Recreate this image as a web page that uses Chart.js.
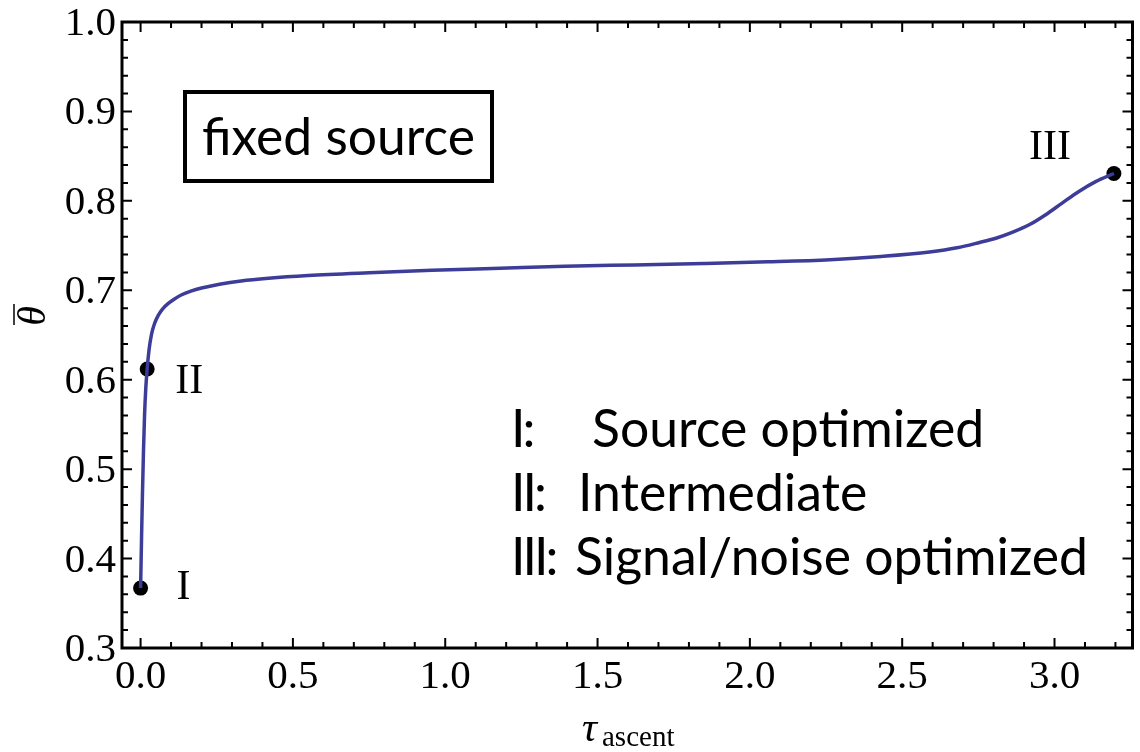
<!DOCTYPE html>
<html>
<head>
<meta charset="utf-8">
<script src="https://cdn.jsdelivr.net/npm/chart.js@4/dist/chart.umd.min.js"></script>
<style>
	body { margin: 0; background: #ffffff; }
	#wrap { width: 1140px; height: 752px; }
</style>
</head>
<body>
<div id="wrap"><canvas id="thetaChart" width="1140" height="752"></canvas></div>
<script>
// curve samples: tau_ascent vs mean theta
const tauValues = [0, 0.003, 0.006, 0.0095, 0.013, 0.017, 0.0216, 0.028, 0.036, 0.046, 0.058, 0.072, 0.09, 0.11, 0.135, 0.165, 0.2, 0.259, 0.33, 0.42, 0.55, 0.75, 0.956, 1.18, 1.392, 1.62, 1.85, 2.06, 2.263, 2.43, 2.59, 2.68, 2.754, 2.81, 2.863, 2.92, 2.971, 3.025, 3.08, 3.135, 3.195];
const thetaValues = [0.367, 0.42, 0.47, 0.52, 0.56, 0.59, 0.612, 0.634, 0.651, 0.663, 0.672, 0.679, 0.685, 0.69, 0.695, 0.699, 0.7025, 0.7068, 0.7105, 0.7135, 0.7165, 0.7196, 0.7223, 0.7246, 0.7268, 0.7284, 0.73, 0.7318, 0.7342, 0.7378, 0.7428, 0.7475, 0.7535, 0.7585, 0.765, 0.7738, 0.7845, 0.7975, 0.8105, 0.8215, 0.8306];

// marked operating points
const markerTau = [0, 0.0216, 3.195];
const markerTheta = [0.367, 0.612, 0.8306];
const markerLabels = ["I", "II", "III"];

// axis ticks
const xTickValues = [0, 0.5, 1, 1.5, 2, 2.5, 3];
const yTickValues = [0.3, 0.4, 0.5, 0.6, 0.7, 0.8, 0.9, 1.0];
const xMinorStep = 0.1;
const yMinorStep = 0.02;

const boxText = "fixed source";
const legendKeys = ["I:", "II:", "III:"];
const legendTexts = ["Source optimized", "Intermediate", "Signal/noise optimized"];

const serif = "\"Liberation Serif\", \"DejaVu Serif\", serif";
const sans = "Lato, \"Open Sans\", sans-serif";

var curveData = tauValues.map((t, i) => ({ x: t, y: thetaValues[i] }));
var markerData = markerTau.map((t, i) => ({ x: t, y: markerTheta[i] }));

// fit a sans string to a target width
function fitFont(ctx, text, width) {
	ctx.font = "50px " + sans;
	var w = ctx.measureText(text).width;
	return Math.round(50 * width / w * 10) / 10;
}

const framePlugin = {
	id: "frame",
	afterDraw(chart) {
		const ctx = chart.ctx;
		const a = chart.chartArea;
		const xs = chart.scales.x;
		const ys = chart.scales.y;
		ctx.save();

		// ticks on all four sides, pointing in
		ctx.strokeStyle = "#000";
		ctx.lineWidth = 2;
		ctx.beginPath();
		for (let v = 0; v <= 3.2 + 1e-9; v += xMinorStep) {
			let px = xs.getPixelForValue(v);
			let major = xTickValues.some((t) => Math.abs(t - v) < 1e-6);
			let len = major ? 10 : 6;
			ctx.moveTo(px, a.bottom);
			ctx.lineTo(px, a.bottom - len);
			ctx.moveTo(px, a.top);
			ctx.lineTo(px, a.top + len);
		}
		for (let v = 0.3; v <= 1.0 + 1e-9; v += yMinorStep) {
			let py = ys.getPixelForValue(v);
			let major = yTickValues.some((t) => Math.abs(t - v) < 1e-6);
			let len = major ? 10 : 6;
			ctx.moveTo(a.left, py);
			ctx.lineTo(a.left + len, py);
			ctx.moveTo(a.right, py);
			ctx.lineTo(a.right - len, py);
		}
		ctx.stroke();

		// frame
		ctx.lineWidth = 3;
		ctx.strokeRect(a.left, a.top, a.right - a.left, a.bottom - a.top);

		// tick labels
		ctx.fillStyle = "#000";
		ctx.font = "41px " + serif;
		ctx.textAlign = "center";
		ctx.textBaseline = "alphabetic";
		xTickValues.forEach((v) => {
			ctx.fillText(v.toFixed(1), xs.getPixelForValue(v), 688);
		});
		ctx.textAlign = "right";
		yTickValues.forEach((v) => {
			ctx.fillText(v.toFixed(1), 116, ys.getPixelForValue(v) + 13);
		});

		// x axis title: tau with subscript
		ctx.textAlign = "left";
		ctx.font = "italic 42px " + serif;
		ctx.fillText("\u03C4", 582, 741);
		ctx.font = "29px " + serif;
		ctx.fillText("ascent", 602, 746);

		// y axis title: theta with overbar, rotated
		ctx.save();
		ctx.translate(45, 316);
		ctx.rotate(-Math.PI / 2);
		ctx.font = "italic 40px " + serif;
		ctx.textAlign = "center";
		ctx.fillText("\u03B8", 0, 0);
		ctx.lineWidth = 1.5;
		ctx.beginPath();
		ctx.moveTo(-9, -31);
		ctx.lineTo(12, -31);
		ctx.stroke();
		ctx.restore();

		// roman numerals next to the points
		const labelOffsets = [[36, 11], [28, 24], [-85, -14]];
		ctx.font = "42px " + serif;
		ctx.textAlign = "left";
		markerLabels.forEach((lab, i) => {
			let px = xs.getPixelForValue(markerTau[i]);
			let py = ys.getPixelForValue(markerTheta[i]);
			ctx.fillText(lab, px + labelOffsets[i][0], py + labelOffsets[i][1]);
		});

		// boxed caption
		ctx.lineWidth = 4;
		ctx.strokeRect(185, 92, 307, 89);
		ctx.font = fitFont(ctx, boxText, 273) + "px " + sans;
		ctx.fillText(boxText, 202, 155);

		// key for the numerals
		const textX = [592, 578, 575];
		const baseY = [447, 511, 575];
		ctx.font = fitFont(ctx, legendTexts[2], 513) + "px " + sans;
		legendKeys.forEach((k, i) => {
			ctx.letterSpacing = "-3px";
			ctx.fillText(k, 511, baseY[i]);
			ctx.letterSpacing = "0px";
			ctx.fillText(legendTexts[i], textX[i], baseY[i]);
		});

		ctx.restore();
	},
};

const thetaChartCtx = document.getElementById("thetaChart");
var thetaChart = new Chart(thetaChartCtx, {
	type: "scatter",
	data: {
		datasets: [
			{
				label: "curve",
				data: curveData,
				showLine: true,
				borderColor: "#3d3d99",
				borderWidth: 3.5,
				pointRadius: 0,
				cubicInterpolationMode: "monotone",
			},
			{
				label: "points",
				data: markerData,
				showLine: false,
				pointRadius: 7.5,
				pointBackgroundColor: "#000",
				pointBorderWidth: 0,
			},
		],
	},
	options: {
		responsive: false,
		animation: false,
		events: [],
		layout: { padding: { left: 122, top: 22, right: 3, bottom: 104 } },
		plugins: {
			legend: { display: false },
			tooltip: { enabled: false },
		},
		scales: {
			x: { type: "linear", min: -0.061, max: 3.256, display: false },
			y: { type: "linear", min: 0.3, max: 1.0, display: false },
		},
	},
	plugins: [framePlugin],
});
</script>
</body>
</html>
